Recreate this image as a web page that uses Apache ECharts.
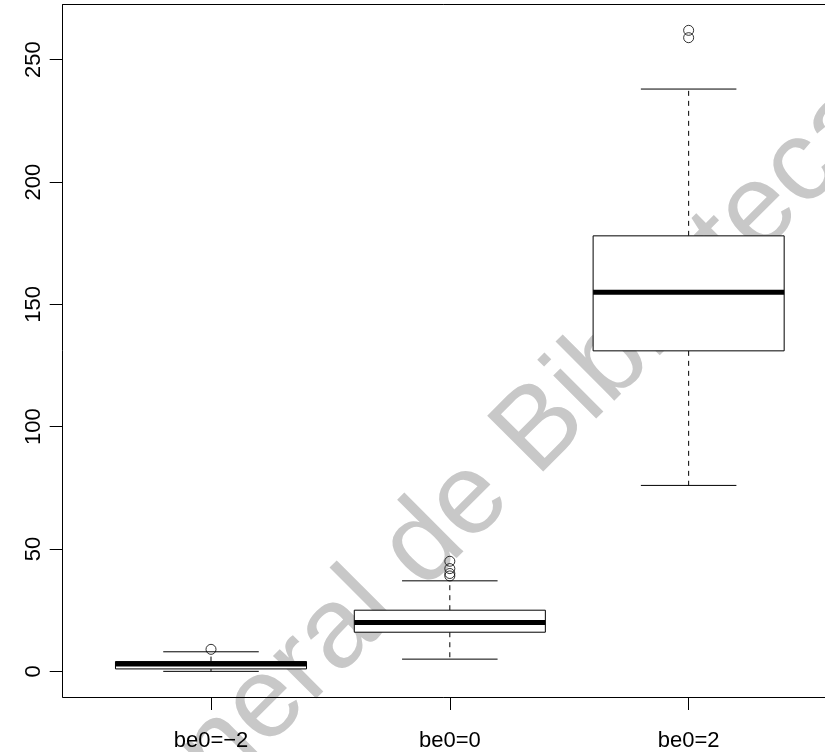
<!DOCTYPE html>
<html>
<head>
<meta charset="utf-8">
<script src="https://cdn.jsdelivr.net/npm/echarts@6/dist/echarts.min.js"></script>
<style>
html,body{margin:0;padding:0;background:#fff;}
#chart{width:825px;height:752px;}
</style>
</head>
<body>
<div id="chart"></div>
<script>
const categories = ['be0=\u22122', 'be0=0', 'be0=2'];
const lowerWhisker = [0, 5, 76];
const q1 = [1, 16, 131];
const median = [3, 20, 155];
const q3 = [4, 25, 178];
const upperWhisker = [8, 37, 238];
const outliers = [[9], [39, 40, 42, 45], [259, 262]];
const yTicks = [0, 50, 100, 150, 200, 250];
const xTicks = [1, 2, 3];
const watermarkText = 'General de Biblioteca';

const boxData = categories.map((c, i) => [i + 1, lowerWhisker[i], q1[i], median[i], q3[i], upperWhisker[i]]);
const outlierData = [];
outliers.forEach((arr, i) => arr.forEach(v => outlierData.push([i + 1, v])));

const FONT = '"Liberation Sans", Arial, Helvetica, sans-serif';
const X_MIN = 0.379, X_MAX = 3.571;

function renderBox(params, api) {
  const x = api.value(0);
  const lw = api.value(1), a = api.value(2), m = api.value(3), b = api.value(4), uw = api.value(5);
  const half = 0.4, capHalf = 0.2;
  const pL = api.coord([x - half, 0])[0];
  const pR = api.coord([x + half, 0])[0];
  const cL = api.coord([x - capHalf, 0])[0];
  const cR = api.coord([x + capHalf, 0])[0];
  const cx = api.coord([x, 0])[0];
  const yLw = api.coord([x, lw])[1];
  const yQ1 = api.coord([x, a])[1];
  const yM = api.coord([x, m])[1];
  const yQ3 = api.coord([x, b])[1];
  const yUw = api.coord([x, uw])[1];
  const solid = {stroke: '#000', lineWidth: 1, fill: null};
  const dashed = {stroke: '#000', lineWidth: 1, lineDash: [5, 5], fill: null};
  return {
    type: 'group',
    children: [
      {type: 'line', shape: {x1: cx, y1: yQ3, x2: cx, y2: yUw}, style: dashed},
      {type: 'line', shape: {x1: cx, y1: yQ1, x2: cx, y2: yLw}, style: dashed},
      {type: 'line', shape: {x1: cL, y1: yUw, x2: cR, y2: yUw}, style: solid},
      {type: 'line', shape: {x1: cL, y1: yLw, x2: cR, y2: yLw}, style: solid},
      {type: 'rect', shape: {x: pL, y: yQ3, width: pR - pL, height: yQ1 - yQ3}, style: {stroke: '#000', lineWidth: 1, fill: '#fff'}},
      {type: 'line', shape: {x1: pL, y1: yM, x2: pR, y2: yM}, style: {stroke: '#000', lineWidth: 5}}
    ]
  };
}

const chart = echarts.init(document.getElementById('chart'), null, {renderer: 'canvas'});
chart.setOption({
  animation: false,
  backgroundColor: '#fff',
  graphic: [{
    type: 'text',
    z: 0,
    x: 478,
    y: 492,
    rotation: Math.PI / 4,
    silent: true,
    style: {
      text: watermarkText,
      fontSize: 115,
      fontFamily: FONT,
      fill: '#c8c8c8',
      align: 'center',
      verticalAlign: 'middle'
    }
  }],
  grid: {
    show: false,
    left: 62.7,
    top: 4.7,
    right: 0,
    height: 693,
    containLabel: false
  },
  xAxis: [{
    type: 'value',
    position: 'bottom',
    min: X_MIN,
    max: X_MAX,
    splitLine: {show: false},
    axisLine: {show: true, onZero: false, lineStyle: {color: '#000', width: 1}},
    axisTick: {show: true, inside: false, length: 13, customValues: xTicks, lineStyle: {color: '#000', width: 1}},
    axisLabel: {
      show: true,
      customValues: xTicks,
      margin: 33,
      fontSize: 22,
      fontFamily: FONT,
      color: '#000',
      formatter: v => categories[Math.round(v) - 1]
    }
  }, {
    type: 'value',
    position: 'top',
    min: X_MIN,
    max: X_MAX,
    splitLine: {show: false},
    axisLine: {show: true, onZero: false, lineStyle: {color: '#000', width: 1}},
    axisTick: {show: false},
    axisLabel: {show: false}
  }],
  yAxis: {
    type: 'value',
    min: -10.48,
    max: 272.48,
    splitLine: {show: false},
    axisLine: {show: true, onZero: false, lineStyle: {color: '#000', width: 1}},
    axisTick: {show: true, inside: false, length: 13, customValues: yTicks, lineStyle: {color: '#000', width: 1}},
    axisLabel: {
      show: true,
      customValues: yTicks,
      rotate: 90,
      margin: 18,
      fontSize: 22,
      fontFamily: FONT,
      color: '#000'
    }
  },
  series: [
    {
      type: 'custom',
      z: 2,
      xAxisIndex: 0,
      renderItem: renderBox,
      encode: {x: 0, y: [1, 2, 3, 4, 5]},
      data: boxData
    },
    {
      type: 'scatter',
      z: 3,
      xAxisIndex: 0,
      symbol: 'circle',
      symbolSize: 10,
      itemStyle: {color: 'transparent', borderColor: '#000', borderWidth: 1},
      data: outlierData
    }
  ]
});
</script>
</body>
</html>
